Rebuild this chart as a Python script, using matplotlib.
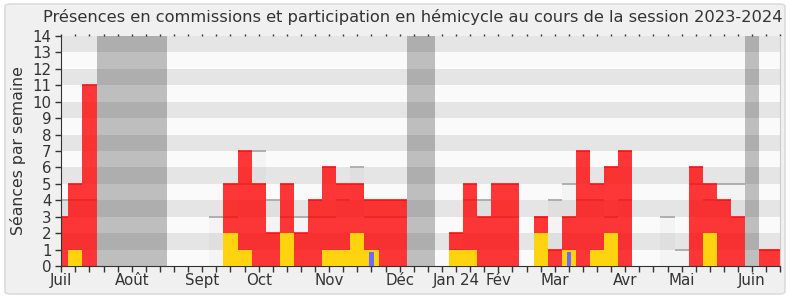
import numpy as np
import matplotlib
matplotlib.use('Agg')
import matplotlib.pyplot as plt
from matplotlib.patches import FancyBboxPatch

# one value per week of the session (week 0 = first week of July 2023)
semaines = np.arange(52)
hemicycle = [3, 5, 11, 0, 0, 0, 0, 0, 0, 0, 0, 0, 5, 7, 5, 2, 5, 2, 4, 6,
             5, 5, 4, 4, 4, 0, 0, 0, 2, 5, 3, 5, 5, 0, 3, 1, 3, 7, 5, 6,
             7, 0, 0, 0, 0, 6, 5, 4, 3, 0, 1, 1]
commission = [0, 1, 0, 0, 0, 0, 0, 0, 0, 0, 0, 0, 2, 1, 0, 0, 2, 0, 0, 1,
              1, 2, 1, 0, 0, 0, 0, 0, 1, 1, 0, 0, 0, 0, 2, 0, 1, 0, 1, 2,
              0, 0, 0, 0, 0, 0, 2, 0, 0, 0, 0, 0]
questions = [0, 0, 0, 0, 0, 0, 0, 0, 0, 0, 0, 0, 0, 0, 0, 0, 0, 0, 0, 0,
             0, 0, 0.85, 0, 0, 0, 0, 0, 0, 0, 0, 0, 0, 0, 0, 0, 0.85, 0, 0, 0,
             0, 0, 0, 0, 0, 0, 0, 0, 0, 0, 0, 0]
mediane = [4, 4, 4, 0, 0, 0, 0, 0, 0, 0, 0, 3, 3, 5, 7, 4, 3, 3, 3, 3,
           4, 6, 3, 3, 3, 0, 0, 0, 1, 4, 4, 3, 3, 0, 3, 4, 5, 4, 4, 3,
           4, 0, 0, 3, 1, 5, 4, 5, 5, 0, 1, 1]
vacances = [3, 4, 5, 6, 7, 25, 26, 49]

mois = ['Juil', 'Août', 'Sept', 'Oct', 'Nov', 'Déc', 'Jan 24', 'Fév',
        'Mar', 'Avr', 'Mai', 'Juin']
mois_semaine = [0, 5, 10, 14, 19, 24, 28, 31, 35, 40, 44, 49]

fig = plt.figure(figsize=(7.9, 3.0), dpi=100)
fig.patch.set_facecolor('white')
cadre = FancyBboxPatch((5 / 790, 6 / 300), 780 / 790, 290 / 300,
                       boxstyle='round,pad=0,rounding_size=0.008',
                       transform=fig.transFigure, facecolor='#f0f0f0',
                       edgecolor='#dcdcdc', lw=1.2, zorder=-10)
fig.patches.append(cadre)

ax = fig.add_axes([61.3 / 790, 34 / 300, 719 / 790, 230 / 300])
ax.set_zorder(1)
ax.set_facecolor('#fafafa')
for k in range(0, 14, 2):
    ax.axhspan(k + 1, k + 2, color='#e5e5e5', lw=0, zorder=0)

# median of all deputies
ax.bar(semaines, mediane, width=1, color='black', alpha=0.025, lw=0, zorder=1)
m = np.array(mediane)
s = semaines[m > 0]
ax.hlines(m[m > 0], s - 0.5, s + 0.5, color='#aaaaaa', lw=1.3, zorder=1)

ax.bar(semaines, hemicycle, width=1, color='#ff0000', alpha=0.78, lw=0, zorder=2)
h = np.array(hemicycle)
s = semaines[h > 0]
ax.hlines(h[h > 0], s - 0.5, s + 0.5, color='#ff1010', lw=1.2, zorder=2)
ax.bar(semaines, commission, width=1, color='#ffd30f', lw=0, zorder=3)
ax.bar(semaines, questions, width=0.3, color='#6b6bff', lw=0, zorder=4)

ax.bar(vacances, [14] * len(vacances), width=1, color='black', alpha=0.24,
       lw=0, zorder=5)

ax.set_xlim(0, 51)
ax.set_ylim(0, 14)
ax.set_yticks(range(15))
ax.set_xticks(mois_semaine)
ax.set_xticklabels(mois)
ax.set_xticks(semaines, minor=True)
ax.tick_params(axis='both', which='both', length=4, width=1, color='#333333',
               labelcolor='#333333', labelsize=10.8, pad=1)
ax.tick_params(axis='y', pad=3)

haut = ax.secondary_xaxis('top')
haut.set_xticks(semaines)
haut.set_xticklabels([])
haut.tick_params(length=1.5, width=1, color='#333333')
haut.spines['top'].set_visible(False)

ax.spines['top'].set_visible(False)
ax.spines['right'].set_color('#cccccc')
ax.spines['left'].set_color('#333333')
ax.spines['bottom'].set_color('#333333')

ax.set_ylabel('Séances par semaine', fontsize=11.3, color='#333333', labelpad=5)
fig.text(0.523, 1 - 17 / 300, 'Présences en commissions et participation en hémicycle au cours de la session 2023-2024',
         ha='center', va='center', fontsize=11.7, color='#333333')

fig.savefig('out.png', dpi=100, facecolor=fig.get_facecolor())
